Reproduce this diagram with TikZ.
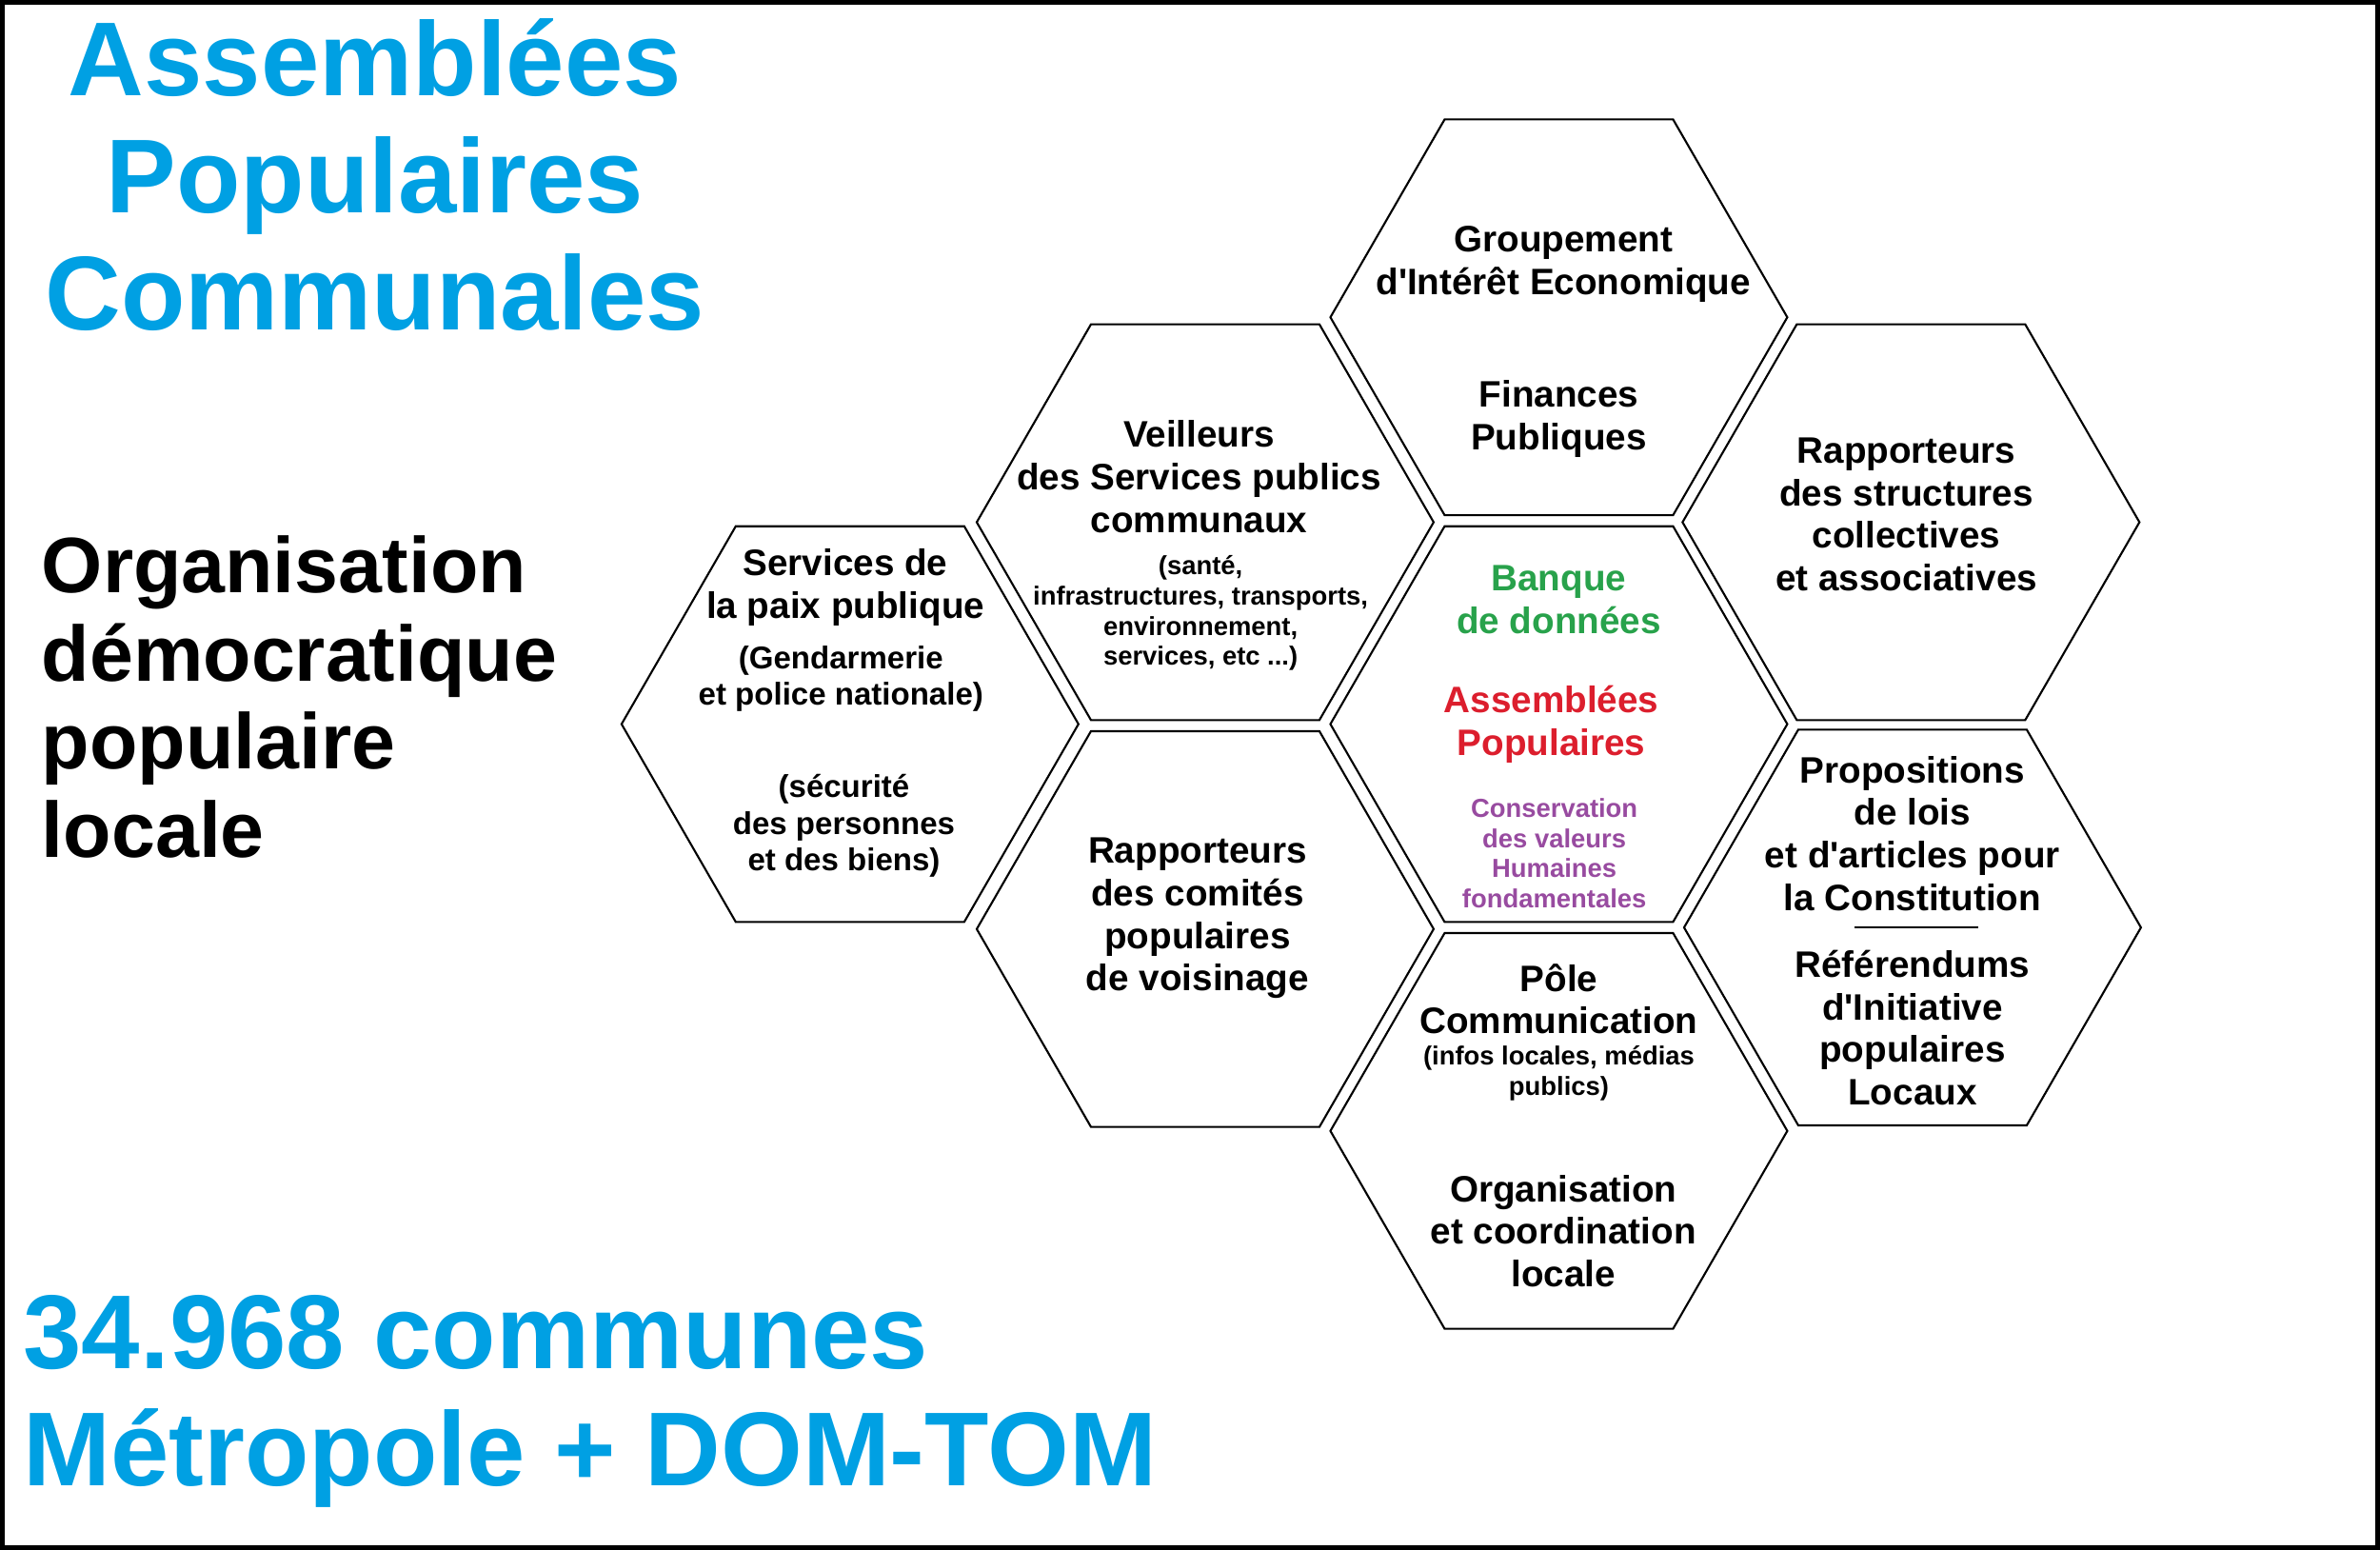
\documentclass[tikz,border=0pt]{standalone}
\usepackage{fontspec}
\setmainfont{Liberation Sans}[Ligatures=TeXOff]
\usetikzlibrary{shapes.geometric}
\definecolor{titleblue}{RGB}{0,160,227}
\definecolor{bankgreen}{RGB}{40,162,75}
\definecolor{apred}{RGB}{220,30,45}
\definecolor{valpurple}{RGB}{152,75,160}

\begin{document}
\begin{tikzpicture}[x=0.015944cm, y=-0.015944cm,
    hexa/.style={regular polygon, regular polygon sides=6, minimum size=4.8cm, inner sep=0pt, draw, line width=0.6pt},
    big/.style={font=\fontsize{11}{12.7}\selectfont\bfseries, align=center, inner sep=0pt},
    mid/.style={font=\fontsize{9.4}{10.9}\selectfont\bfseries, align=center, inner sep=0pt},
    small/.style={font=\fontsize{7.8}{9}\selectfont\bfseries, align=center, inner sep=0pt},
    title/.style={font=\fontsize{31.4}{35}\selectfont\bfseries, text=titleblue, inner sep=0pt}]
    \useasboundingbox (0,0) rectangle (1568,1021);
    \draw[line width=1.4pt] (1.5,1.5) rectangle (1566.5,1019.5);

    \node[title, align=center] (titre) at (247,115) {Assemblées\\Populaires\\Communales};
    \node[font=\fontsize{23.5}{26.3}\selectfont\bfseries, align=left, anchor=west, inner sep=0pt] (orga) at (27,459)
        {Organisation\\démocratique\\populaire\\locale};
    \node[title, align=left, anchor=west] (communes) at (15,923) {34.968 communes\\Métropole + DOM-TOM};

    \node[hexa] (gie) at (1027,209) {};
    \node[hexa] (veil) at (794,344) {};
    \node[hexa] (paix) at (560,477) {};
    \node[hexa] (rapc) at (794,612) {};
    \node[hexa] (bank) at (1027,477) {};
    \node[hexa] (rapp) at (1259,344) {};
    \node[hexa] (prop) at (1260,611) {};
    \node[hexa] (pole) at (1027,745) {};

    \node[big] (gieT) at (1030,174) {Groupement\\d'Intérêt Economique};
    \node[big] (finT) at (1027,276) {Finances\\Publiques};
    \node[big] (veilT) at (790,314) {Veilleurs\\des Services publics\\communaux};
    \node[small] (veilS) at (791,404) {(santé,\\infrastructures, transports,\\environnement,\\services, etc ...)};
    \node[big] (paixT) at (557,387) {Services de\\la paix publique};
    \node[mid] (paixS) at (554,447) {(Gendarmerie\\et police nationale)};
    \node[mid] (paixB) at (556,544) {(sécurité\\des personnes\\et des biens)};
    \node[big] (rapcT) at (789,605) {Rapporteurs\\des comités\\populaires\\de voisinage};
    \node[big, text=bankgreen] (bankT) at (1027,395) {Banque\\de données};
    \node[big, text=apred] (apT) at (1022,477) {Assemblées\\Populaires};
    \node[small, text=valpurple] (valT) at (1024,562) {Conservation\\des valeurs\\Humaines\\fondamentales};
    \node[big] (rappT) at (1256,339) {Rapporteurs\\des structures\\collectives\\et associatives};
    \node[big] (propT) at (1260,549) {Propositions\\de lois\\et d'articles pour\\la Constitution};
    \draw[line width=0.5pt] (1222,611) -- (1303,611);
    \node[big] (refT) at (1260,677) {Référendums\\d'Initiative\\populaires\\Locaux};
    \node[big] (poleT) at (1027,658) {Pôle\\Communication};
    \node[small] (poleS) at (1027,707) {(infos locales, médias\\publics)};
    \node[big] (coordT) at (1030,811) {Organisation\\et coordination\\locale};
\end{tikzpicture}
\end{document}
